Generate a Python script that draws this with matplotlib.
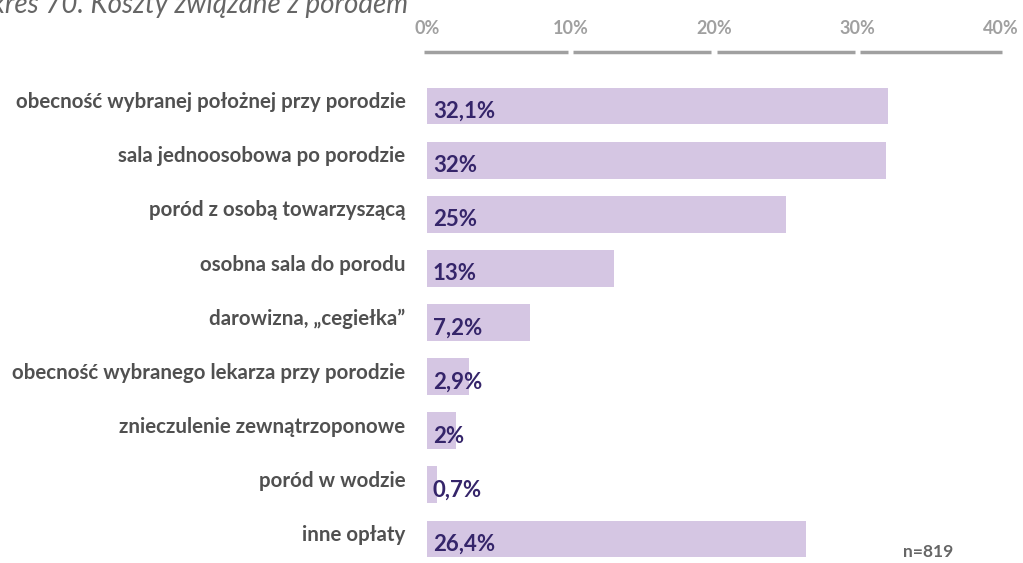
import numpy as np
import matplotlib.pyplot as plt
from matplotlib import transforms

# Koszty związane z porodem, n=819
categories = ["obecność wybranej położnej przy porodzie",
              "sala jednoosobowa po porodzie",
              "poród z osobą towarzyszącą",
              "osobna sala do porodu",
              "darowizna, „cegiełka”",
              "obecność wybranego lekarza przy porodzie",
              "znieczulenie zewnątrzoponowe",
              "poród w wodzie",
              "inne opłaty"]
values = [32.1, 32, 25, 13, 7.2, 2.9, 2, 0.7, 26.4]
value_labels = ["32,1%", "32%", "25%", "13%", "7,2%", "2,9%", "2%", "0,7%", "26,4%"]
ticks = [0, 10, 20, 30, 40]
tick_labels = ["0%", "10%", "20%", "30%", "40%"]

bar_color = "#d5c6e3"
value_color = "#35256a"
label_color = "#505050"
axis_color = "#a0a0a0"

plt.rcParams['font.family'] = ['Lato', 'DejaVu Sans']

fig = plt.figure(figsize=(10.23, 5.63), dpi=100)
ax = fig.add_axes([427/1023, 1-566/563, 574/1023, 487/563])

y = np.arange(len(categories))
ax.barh(y, values, height=0.68, color=bar_color)
ax.set_xlim(0, 40)
ax.set_ylim(len(categories)-0.5, -0.5)

for yi, lab in zip(y, value_labels):
    ax.text(0.4, yi+0.1, lab, ha='left', va='center', fontsize=16,
            fontweight='bold', color=value_color)

for yi, cat in zip(y, categories):
    ax.text(-1.5, yi-0.07, cat, ha='right', va='center', fontsize=14.8,
            fontweight='bold', color=label_color)

# top scale: labels and a segmented line
ax.set_yticks([])
ax.xaxis.tick_top()
ax.set_xticks(ticks)
ax.set_xticklabels(tick_labels, fontsize=13, fontweight='bold', color=axis_color)
ax.tick_params(axis='x', length=0, pad=30)
for s in ax.spines.values():
    s.set_visible(False)

tr = transforms.blended_transform_factory(ax.transData, ax.transAxes)
seg_y = (566-52)/487
for a, b in zip(ticks[:-1], ticks[1:]):
    ax.plot([a+0.2 - (0.4 if a == 0 else 0), b-0.2 + (0.3 if b == 40 else 0)],
            [seg_y, seg_y], color=axis_color, lw=2.5, solid_capstyle='butt',
            transform=tr, clip_on=False)

fig.text(408/1023, 1-13/563, "Wykres 70. Koszty związane z porodem",
         ha='right', va='baseline', fontsize=20, style='italic', color='#666666')
fig.text(928/1023, 1-552/563, "n=819", ha='center', va='center', fontsize=12.5,
         fontweight='bold', color='#666666')

fig.savefig("out.png", dpi=100)
